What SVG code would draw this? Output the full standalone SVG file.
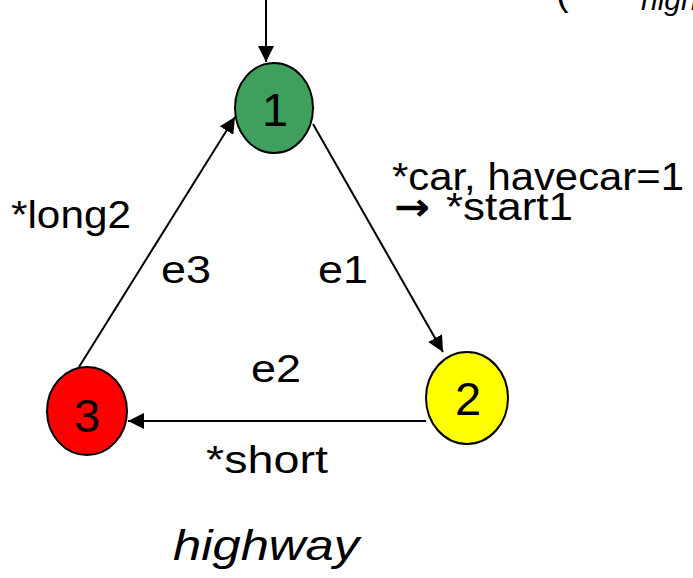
<svg xmlns="http://www.w3.org/2000/svg" width="693" height="578" viewBox="0 0 693 578">
  <style>
    .node { stroke: #000; stroke-width: 2; }
    .num { font-family: "Liberation Sans", Arial, sans-serif; font-size: 47px; text-anchor: middle; fill: #000; }
    .lbl { font-family: "Liberation Sans", Arial, sans-serif; font-size: 38px; fill: #000; }
    .it { font-family: "Liberation Sans", Arial, sans-serif; font-style: italic; fill: #000; }
    .edge { stroke: #000; stroke-width: 2; fill: none; marker-end: url(#arrow); }
  </style>
  <defs>
    <marker id="arrow" viewBox="0 0 10 10" refX="10" refY="5" markerWidth="16" markerHeight="16" markerUnits="userSpaceOnUse" orient="auto">
      <path d="M0,0 L10,5 L0,10 z" fill="#000"/>
    </marker>
  </defs>

  <!-- partial caption at the top edge -->
  <text class="lbl" x="556" y="5">(</text>
  <text class="it" x="641" y="10" font-size="30">highway</text>

  <!-- connectors -->
  <g id="edges">
    <line class="edge" x1="266" y1="0" x2="266" y2="62"/>
    <line class="edge" x1="313" y1="124" x2="443" y2="352"/>
    <line class="edge" x1="426" y1="421" x2="128" y2="421"/>
    <line class="edge" x1="79" y1="367" x2="235" y2="117"/>
  </g>

  <!-- states -->
  <g id="node1">
    <ellipse class="node" cx="274" cy="108" rx="39" ry="45" fill="#3f9f5c"/>
    <text class="num" x="275" y="126">1</text>
  </g>
  <g id="node2">
    <ellipse class="node" cx="467" cy="398" rx="41" ry="46" fill="#ffff00"/>
    <text class="num" x="468" y="415">2</text>
  </g>
  <g id="node3">
    <ellipse class="node" cx="87" cy="411" rx="40" ry="44" fill="#ff0000"/>
    <text class="num" x="87" y="432">3</text>
  </g>

  <!-- edge labels -->
  <g id="labels">
    <text class="lbl" x="11" y="228" textLength="120" lengthAdjust="spacingAndGlyphs">*long2</text>
    <text class="lbl" x="161" y="283" textLength="50" lengthAdjust="spacingAndGlyphs">e3</text>
    <text class="lbl" x="318" y="283" textLength="50" lengthAdjust="spacingAndGlyphs">e1</text>
    <text class="lbl" x="392" y="190" textLength="292" lengthAdjust="spacingAndGlyphs">*car, havecar=1</text>
    <text font-family="DejaVu Sans, sans-serif" font-weight="bold" font-size="38px" x="394" y="220" textLength="36" lengthAdjust="spacingAndGlyphs" fill="#000">→</text>
    <text class="lbl" x="446" y="220" textLength="127" lengthAdjust="spacingAndGlyphs">*start1</text>
    <text class="lbl" x="251" y="382" textLength="50" lengthAdjust="spacingAndGlyphs">e2</text>
    <text class="lbl" x="206" y="473" textLength="122" lengthAdjust="spacingAndGlyphs">*short</text>
  </g>

  <!-- caption -->
  <text class="it" x="173" y="560" font-size="42" textLength="186" lengthAdjust="spacingAndGlyphs">highway</text>
</svg>
